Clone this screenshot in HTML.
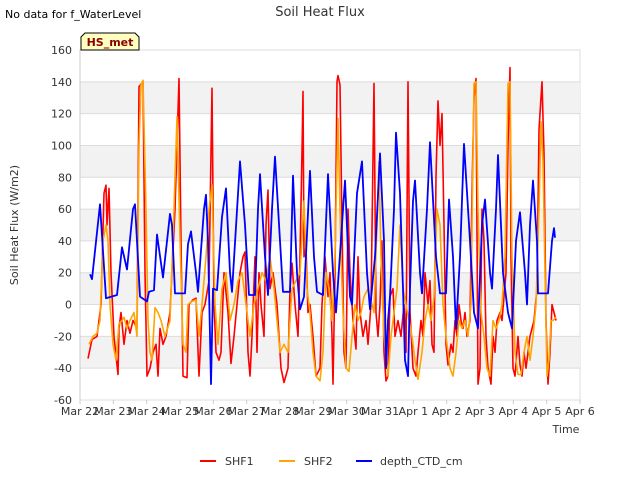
<!DOCTYPE html>
<html><head><meta charset="utf-8"><style>
body{margin:0;background:#fff;font-family:"DejaVu Sans","Liberation Sans",sans-serif;}
svg text{font-family:"DejaVu Sans","Liberation Sans",sans-serif;}
</style></head><body>
<svg id="chart" width="640" height="480" xmlns="http://www.w3.org/2000/svg">
<rect x="0" y="0" width="640" height="480" fill="#fff"/>
<g id="bands"></g>
<g id="grid"></g>
<g id="yticks"></g>
<g id="xticks"></g>
<g id="series"></g>
<text x="320" y="16" text-anchor="middle" font-size="13" fill="#333">Soil Heat Flux</text>
<text x="5" y="18" font-size="11" fill="#000">No data for f_WaterLevel</text>
<g>
<path d="M81,50 L81,37 L85,33 L135,33 L139,37 L139,50 Z" fill="#ffffc0" stroke="#000" stroke-width="1"/>
<text x="110" y="46" text-anchor="middle" font-size="11" font-weight="bold" fill="#8b0000">HS_met</text>
</g>
<text transform="translate(18,225) rotate(-90)" text-anchor="middle" font-size="11" fill="#333">Soil Heat Flux (W/m2)</text>
<text x="566" y="433" text-anchor="middle" font-size="11" fill="#333">Time</text>
<g>
<g><line x1="200" y1="461" x2="216" y2="461" stroke="#ff0000" stroke-width="2"/><text x="225" y="465" font-size="11" fill="#333">SHF1</text></g>
<g><line x1="279" y1="461" x2="295" y2="461" stroke="#ffa500" stroke-width="2"/><text x="304" y="465" font-size="11" fill="#333">SHF2</text></g>
<g><line x1="356" y1="461" x2="372" y2="461" stroke="#0000ff" stroke-width="2"/><text x="380" y="465" font-size="11" fill="#333">depth_CTD_cm</text></g>
</g>
</svg>
<script>
const yTicks=[-60,-40,-20,0,20,40,60,80,100,120,140,160];
const xTickLabels=["Mar 22","Mar 23","Mar 24","Mar 25","Mar 26","Mar 27","Mar 28","Mar 29","Mar 30","Mar 31","Apr 1","Apr 2","Apr 3","Apr 4","Apr 5","Apr 6"];
const shf1T=[0.24,0.36,0.51,0.63,0.72,0.78,0.81,0.87,0.93,1.02,1.14,1.17,1.23,1.32,1.41,1.50,1.59,1.71,1.77,1.89,1.95,2.01,2.10,2.19,2.28,2.34,2.40,2.49,2.58,2.70,2.85,2.97,3.03,3.09,3.21,3.27,3.39,3.48,3.57,3.66,3.75,3.87,3.96,4.02,4.08,4.17,4.23,4.32,4.44,4.53,4.62,4.71,4.80,4.89,4.95,5.04,5.10,5.16,5.25,5.31,5.37,5.43,5.52,5.58,5.64,5.70,5.79,5.91,6.03,6.12,6.24,6.30,6.36,6.45,6.54,6.60,6.66,6.69,6.72,6.78,6.84,6.90,6.99,7.08,7.20,7.26,7.35,7.44,7.50,7.56,7.59,7.65,7.71,7.74,7.80,7.86,7.92,7.98,8.04,8.10,8.19,8.28,8.34,8.40,8.49,8.58,8.64,8.73,8.82,8.88,8.94,9.00,9.06,9.12,9.18,9.24,9.30,9.39,9.45,9.54,9.63,9.72,9.78,9.84,9.90,9.99,10.08,10.14,10.23,10.29,10.35,10.44,10.50,10.56,10.62,10.68,10.74,10.80,10.86,10.92,10.98,11.04,11.13,11.19,11.25,11.31,11.37,11.43,11.49,11.55,11.61,11.70,11.76,11.82,11.88,11.94,12.00,12.06,12.12,12.18,12.24,12.33,12.39,12.45,12.51,12.60,12.66,12.78,12.84,12.90,12.93,12.99,13.05,13.14,13.20,13.26,13.32,13.38,13.50,13.62,13.71,13.77,13.86,13.92,13.98,14.04,14.10,14.16,14.22,14.28];
const shf1V=[-34,-22,-20,0,70,75,50,73,20,-20,-44,-15,-5,-25,-10,-18,-10,-15,137,140,20,-45,-40,-30,-25,-45,-15,-25,-20,-5,60,142,40,-45,-46,0,3,4,-45,-5,0,15,136,0,-30,-35,-30,20,-5,-37,-20,0,20,30,33,-30,-45,-20,30,-30,20,0,-20,50,72,10,20,0,-40,-49,-40,10,26,0,-20,30,96,134,30,36,-5,0,-20,-45,-40,0,30,5,20,-20,-50,20,140,144,138,50,-30,-40,60,20,-10,-28,30,-5,-20,-10,-25,0,139,-5,-20,0,40,-30,-48,-45,5,10,-20,-10,-20,0,-30,140,-5,-40,-45,-30,-10,-20,20,0,15,-25,-30,80,128,100,120,50,-25,-38,-25,-30,-10,-20,0,-10,-15,-5,-20,-10,70,130,142,-50,-40,60,40,-20,-40,-50,-20,-30,-10,-5,-10,20,100,149,30,-40,-45,-20,-38,-45,-30,-40,-20,-10,10,110,140,95,-10,-50,-30,0,-5,-10];
const shf2T=[0.27,0.39,0.51,0.60,0.69,0.78,0.84,0.90,0.99,1.08,1.17,1.26,1.32,1.41,1.50,1.62,1.71,1.77,1.83,1.89,1.98,2.04,2.10,2.16,2.25,2.34,2.43,2.55,2.70,2.82,2.91,3.00,3.09,3.18,3.24,3.36,3.48,3.57,3.66,3.78,3.87,3.96,4.05,4.14,4.26,4.38,4.50,4.62,4.74,4.86,4.98,5.10,5.22,5.34,5.46,5.58,5.70,5.82,5.91,6.00,6.12,6.24,6.36,6.48,6.60,6.72,6.81,6.90,6.99,7.08,7.20,7.29,7.38,7.47,7.56,7.65,7.74,7.83,7.89,7.98,8.07,8.16,8.25,8.34,8.43,8.52,8.64,8.76,8.82,8.91,8.97,9.03,9.12,9.24,9.33,9.42,9.51,9.60,9.69,9.78,9.87,9.96,10.05,10.14,10.26,10.35,10.44,10.53,10.62,10.71,10.80,10.89,10.98,11.10,11.19,11.28,11.37,11.46,11.55,11.64,11.73,11.82,11.88,11.94,12.03,12.12,12.21,12.30,12.39,12.48,12.57,12.66,12.75,12.84,12.90,12.96,13.05,13.14,13.23,13.32,13.41,13.50,13.59,13.68,13.77,13.83,13.89,13.95,14.01,14.07,14.13,14.19,14.28];
const shf2V=[-25,-20,-18,-10,40,50,40,0,-25,-35,-12,-10,-8,-15,-10,-5,-20,100,138,141,60,-10,-30,-35,-2,-5,-10,-20,-10,60,118,40,-25,-30,0,2,3,-20,0,30,60,75,0,-25,10,20,-10,0,15,20,0,-20,0,10,20,15,30,10,-10,-30,-25,-30,10,15,20,65,10,-5,-30,-45,-48,-30,20,10,-10,30,117,30,-5,-40,-42,-20,0,-10,-5,5,10,0,-5,50,90,30,-20,-45,-20,-5,10,50,10,0,-10,-20,-35,-47,-30,-10,0,-10,5,60,50,0,-20,-40,-45,-30,-10,-15,-10,-20,0,139,140,60,-5,-20,-40,-45,-10,-15,-10,0,30,139,140,30,-30,-44,-44,-30,-20,-35,-20,0,60,115,90,20,-45,-35,-10,-10,-8];
const depthT=[0.30,0.36,0.60,0.78,1.11,1.26,1.41,1.59,1.65,1.80,2.01,2.07,2.22,2.31,2.49,2.70,2.76,2.85,3.15,3.24,3.33,3.48,3.54,3.72,3.78,3.84,3.93,3.99,4.11,4.26,4.38,4.50,4.56,4.80,4.95,5.07,5.25,5.34,5.40,5.55,5.64,5.76,5.85,6.00,6.09,6.30,6.39,6.51,6.60,6.72,6.90,7.02,7.11,7.29,7.44,7.59,7.68,7.95,8.10,8.16,8.31,8.46,8.61,8.70,8.85,9.00,9.12,9.18,9.24,9.30,9.42,9.48,9.60,9.69,9.75,9.84,9.90,9.99,10.05,10.20,10.26,10.41,10.50,10.68,10.80,10.98,11.07,11.19,11.28,11.40,11.52,11.70,11.82,11.94,12.06,12.15,12.30,12.36,12.48,12.54,12.69,12.84,12.96,13.08,13.20,13.35,13.41,13.50,13.59,13.71,13.74,14.04,14.16,14.22,14.25];
const depthV=[19,16,63,4,6,36,22,60,63,5,2,8,9,44,17,57,50,7,7,38,46,20,8,60,69,40,-50,10,9,55,73,20,8,90,50,6,6,60,82,30,6,60,93,40,8,8,81,20,-3,5,84,30,8,6,82,20,-5,78,5,0,70,90,20,-3,30,95,40,-40,-10,5,60,108,70,10,-35,-45,10,65,78,20,7,60,102,30,7,7,66,30,-15,30,101,40,-5,-15,50,66,20,10,60,94,20,-5,-15,40,58,20,0,50,78,40,7,7,40,48,42];

const X0=80,X1=580,Y0=50,Y1=400;
const xs=d=>X0+(d/15)*(X1-X0);
const ys=v=>Y0+(160-v)/220*(Y1-Y0);
const NS="http://www.w3.org/2000/svg";
function mk(tag,attrs,parent){const e=document.createElementNS(NS,tag);for(const k in attrs)e.setAttribute(k,attrs[k]);parent.appendChild(e);return e;}
const bands=document.getElementById('bands'),grid=document.getElementById('grid'),yg=document.getElementById('yticks'),xg=document.getElementById('xticks'),sg=document.getElementById('series');
const pb=mk('rect',{x:X0,y:Y0,width:X1-X0,height:Y1-Y0,fill:'#fff',stroke:'#ddd'},bands);


for(let i=0;i<yTicks.length-1;i++){
  const lo=yTicks[i],hi=yTicks[i+1];
  if(((lo+60)/20)%2===1){
    const b=mk('rect',{x:X0,y:ys(hi),width:X1-X0,height:ys(lo)-ys(hi),fill:'#f2f2f2'},bands);
    
    
  }
}
yTicks.forEach(v=>{
  const l=mk('line',{x1:X0,x2:X1,y1:ys(v),y2:ys(v),stroke:'#dcdcdc','stroke-width':1},grid);
  
  
  const t=mk('text',{x:X0-8,y:ys(v)+4,'text-anchor':'end','font-size':11,fill:'#333'},yg);
  t.textContent=v;
  
  
});
mk('line',{x1:X0,x2:X0,y1:Y0,y2:Y1,stroke:'#ccc'},grid);
xTickLabels.forEach((s,i)=>{
  mk('line',{x1:xs(i),x2:xs(i),y1:Y1,y2:Y1+4,stroke:'#ccc'},xg);
  const t=mk('text',{x:xs(i),y:Y1+15,'text-anchor':'middle','font-size':11,fill:'#333'},xg);
  t.textContent=s;
  
  
});
function line(T,V,color,w,name){
  const d=T.map((t,i)=>(i?'L':'M')+xs(t).toFixed(1)+','+ys(V[i]).toFixed(1)).join('');
  const p=mk('path',{d:d,fill:'none',stroke:color,'stroke-width':w,'stroke-linejoin':'round'},sg);
  
  
}
line(shf1T,shf1V,'#ff0000',1.6,'shf1-line');
line(shf2T,shf2V,'#ffa500',1.6,'shf2-line');
line(depthT,depthV,'#0000ff',1.8,'depth-ctd-line');
</script>
</body></html>
